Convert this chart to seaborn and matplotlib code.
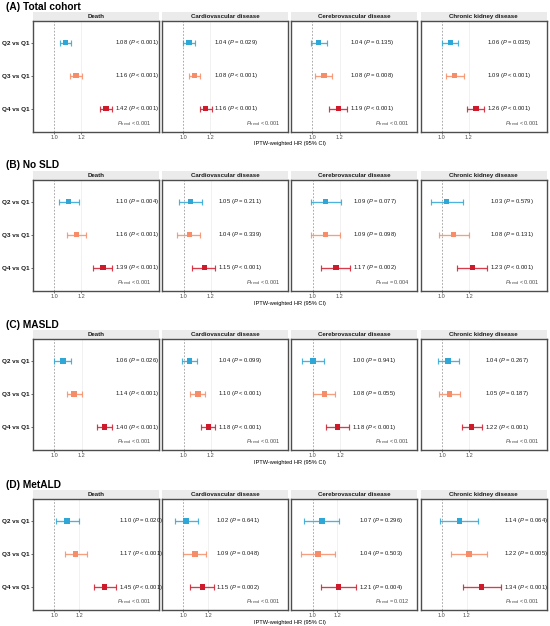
import matplotlib
matplotlib.use("Agg")
import matplotlib.pyplot as plt
import seaborn as sns
import pandas as pd
import numpy as np
from matplotlib.ticker import FixedLocator, NullLocator, FixedFormatter

sns.set_theme(style="white")
plt.rcParams['font.family'] = ['Liberation Sans', 'DejaVu Sans']
plt.rcParams['mathtext.fontset'] = 'custom'
plt.rcParams['mathtext.rm'] = 'Liberation Sans'
plt.rcParams['mathtext.it'] = 'Liberation Sans:italic'
plt.rcParams['mathtext.bf'] = 'Liberation Sans:bold'

# ---------------- data ----------------
cohorts = ["(A) Total cohort", "(B) No SLD", "(C) MASLD", "(D) MetALD"]
outcomes = ["Death", "Cardiovascular disease", "Cerebrovascular disease", "Chronic kidney disease"]
comparisons = ["Q2 vs Q1", "Q3 vs Q1", "Q4 vs Q1"]

# (A) Total cohort
hr_A = [[1.08, 1.16, 1.42], [1.04, 1.08, 1.16], [1.04, 1.08, 1.19], [1.06, 1.09, 1.26]]
lo_A = [[1.04, 1.11, 1.36], [1.00, 1.04, 1.12], [0.99, 1.02, 1.12], [1.00, 1.03, 1.19]]
hi_A = [[1.12, 1.21, 1.48], [1.08, 1.12, 1.21], [1.10, 1.14, 1.26], [1.12, 1.16, 1.33]]
p_A = [["< 0.001", "< 0.001", "< 0.001"], ["= 0.029", "< 0.001", "< 0.001"],
       ["= 0.135", "= 0.008", "< 0.001"], ["= 0.035", "< 0.001", "< 0.001"]]
ptrend_A = ["< 0.001", "< 0.001", "< 0.001", "< 0.001"]

# (B) No SLD
hr_B = [[1.10, 1.16, 1.39], [1.05, 1.04, 1.15], [1.09, 1.09, 1.17], [1.03, 1.08, 1.23]]
lo_B = [[1.03, 1.09, 1.30], [0.97, 0.96, 1.06], [0.99, 0.99, 1.06], [0.93, 0.98, 1.11]]
hi_B = [[1.18, 1.24, 1.48], [1.13, 1.12, 1.24], [1.21, 1.20, 1.29], [1.15, 1.20, 1.36]]
p_B = [["= 0.004", "< 0.001", "< 0.001"], ["= 0.211", "= 0.339", "< 0.001"],
       ["= 0.077", "= 0.098", "= 0.002"], ["= 0.579", "= 0.131", "< 0.001"]]
ptrend_B = ["< 0.001", "< 0.001", "= 0.004", "< 0.001"]

# (C) MASLD
hr_C = [[1.06, 1.14, 1.40], [1.04, 1.10, 1.18], [1.00, 1.08, 1.18], [1.04, 1.05, 1.22]]
lo_C = [[1.00, 1.09, 1.33], [0.99, 1.04, 1.12], [0.93, 1.00, 1.09], [0.97, 0.98, 1.14]]
hi_C = [[1.12, 1.20, 1.47], [1.09, 1.15, 1.23], [1.08, 1.16, 1.27], [1.12, 1.13, 1.31]]
p_C = [["= 0.026", "< 0.001", "< 0.001"], ["= 0.099", "< 0.001", "< 0.001"],
       ["= 0.941", "= 0.055", "< 0.001"], ["= 0.267", "= 0.187", "< 0.001"]]
ptrend_C = ["< 0.001", "< 0.001", "< 0.001", "< 0.001"]

# (D) MetALD
hr_D = [[1.10, 1.17, 1.45], [1.02, 1.09, 1.15], [1.07, 1.04, 1.21], [1.14, 1.22, 1.34]]
lo_D = [[1.01, 1.08, 1.34], [0.94, 1.00, 1.05], [0.94, 0.92, 1.06], [0.99, 1.07, 1.17]]
hi_D = [[1.20, 1.27, 1.58], [1.11, 1.18, 1.25], [1.21, 1.18, 1.38], [1.31, 1.40, 1.55]]
p_D = [["= 0.020", "< 0.001", "< 0.001"], ["= 0.641", "= 0.048", "= 0.002"],
       ["= 0.296", "= 0.503", "= 0.004"], ["= 0.064", "= 0.005", "< 0.001"]]
ptrend_D = ["< 0.001", "< 0.001", "= 0.012", "< 0.001"]

x_label = "IPTW-weighted HR (95% CI)"
tick_values = [1.0, 1.2]
tick_labels = ["1.0", "1.2"]

panels = [
    (hr_A, lo_A, hi_A, p_A, ptrend_A),
    (hr_B, lo_B, hi_B, p_B, ptrend_B),
    (hr_C, lo_C, hi_C, p_C, ptrend_C),
    (hr_D, lo_D, hi_D, p_D, ptrend_D),
]

# ---------------- style / layout ----------------
palette = {"Q2 vs Q1": "#2EA6D6", "Q3 vs Q1": "#F68D68", "Q4 vs Q1": "#CF1A2C"}
ypos = {"Q2 vs Q1": 3, "Q3 vs Q1": 2, "Q4 vs Q1": 1}
xlim_left = [0.868, 0.866, 0.866, 0.855]

W, H = 550, 626
fig = plt.figure(figsize=(W / 100, H / 100), dpi=100)
fig.patch.set_facecolor("white")

def rect(left, top, w, h):
    return [left / W, 1 - (top + h) / H, w / W, h / H]

panel_lefts = [33, 162.2, 291.4, 420.6]
panel_w = 126
panel_tops = [21, 180, 339.3, 499.3]
panel_h = 111
strip_h = 9

for pi, (hr, lo, hi, pv, pt) in enumerate(panels):
    top = panel_tops[pi]
    all_hi = max(max(r) for r in hi)
    xlim = (xlim_left[pi], all_hi * 1.37)
    fig.text(6 / W, 1 - (top - 14.5) / H, cohorts[pi], ha="left", va="center",
             fontsize=7.3, fontweight="bold", color="black")
    fig.text(290 / W, 1 - (top + panel_h + 12) / H, x_label, ha="center", va="center",
             fontsize=4.05, color="black")
    for oi, outc in enumerate(outcomes):
        left = panel_lefts[oi]
        df = pd.DataFrame({
            "comp": comparisons,
            "hr": hr[oi],
            "lo": lo[oi],
            "hi": hi[oi],
            "p": pv[oi],
        })
        df["y"] = df["comp"].map(ypos)

        # strip
        sax = fig.add_axes(rect(left, top - strip_h, panel_w, strip_h))
        sax.set_facecolor("#EBEBEB")
        for s in sax.spines.values():
            s.set_visible(False)
        sax.set_xticks([]); sax.set_yticks([])
        sax.text(0.5, 0.5, outc, ha="center", va="center", fontsize=4.4,
                 fontweight="bold", color="#1A1A1A", transform=sax.transAxes)

        ax = fig.add_axes(rect(left, top, panel_w, panel_h))
        ax.set_facecolor("white")
        ax.set_xscale("log")
        ax.set_xlim(*xlim)
        ax.set_ylim(0.3, 3.65)
        ax.axvline(1.2, color="#EBEBEB", lw=0.5, zorder=0)
        ax.axvline(1.0, color="#9A9A9A", lw=0.6, ls=(0, (2, 2)), zorder=1)

        for _, r in df.iterrows():
            c = palette[r["comp"]]
            ax.errorbar(r["hr"], r["y"], xerr=[[r["hr"] - r["lo"]], [r["hi"] - r["hr"]]],
                        fmt="none", ecolor=c, elinewidth=0.95, capsize=2.3, capthick=0.85,
                        alpha=0.85, zorder=2)
        sns.scatterplot(data=df, x="hr", y="y", hue="comp", palette=palette, marker="s",
                        s=15, linewidth=0, legend=False, ax=ax, zorder=3)

        text_x = df["hi"].max() * 1.02
        for _, r in df.iterrows():
            ax.text(text_x, r["y"], f"{r['hr']:.2f} ($P$ {r['p']})", ha="left", va="center",
                    fontsize=4.2, color="#1A1A1A")
        ax.text(0.94, 0.075, r"$P_{\mathrm{trend}}$" + f" {pt[oi]}", ha="right", va="center",
                fontsize=4.0, color="#4D4D4D", transform=ax.transAxes)

        ax.xaxis.set_major_locator(FixedLocator(tick_values))
        ax.xaxis.set_major_formatter(FixedFormatter(tick_labels))
        ax.xaxis.set_minor_locator(NullLocator())
        ax.tick_params(axis="x", which="major", bottom=True, length=1.5, width=0.5,
                       color="#4D4D4D", pad=0.8, labelsize=4.0, labelcolor="#4D4D4D")
        ax.set_xlabel(""); ax.set_ylabel("")
        if oi == 0:
            ax.set_yticks([ypos[c] for c in comparisons])
            ax.set_yticklabels(comparisons, fontsize=4.6, fontweight="bold", color="#1A1A1A")
            ax.tick_params(axis="y", left=True, length=1.5, width=0.5, color="#333333", pad=1)
        else:
            ax.set_yticks([])
        for s in ax.spines.values():
            s.set_visible(True)
            s.set_color("#4D4D4D")
            s.set_linewidth(1.0)
        ax.grid(False)

fig.savefig("out.png", dpi=100, facecolor="white")
